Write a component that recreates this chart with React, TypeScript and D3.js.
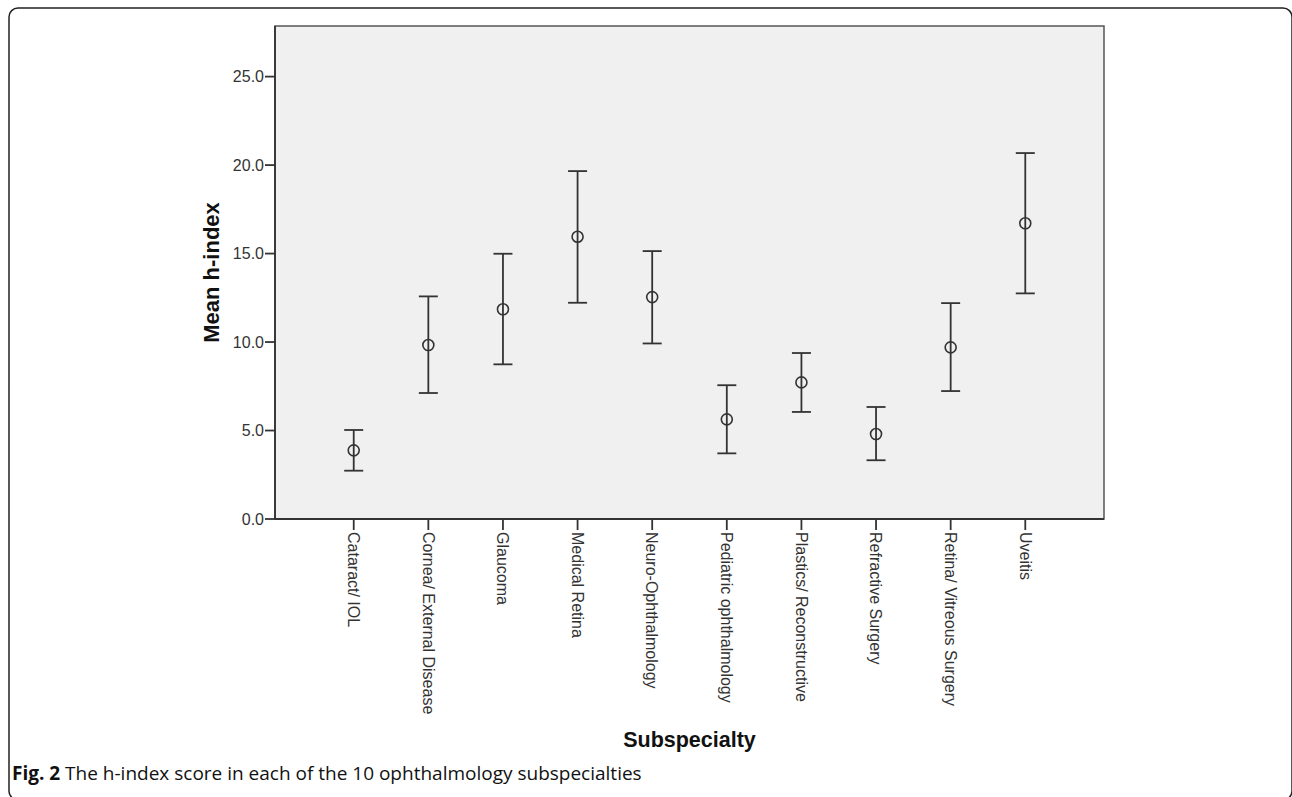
import React from "react";
import * as d3 from "d3";

// h-index per subspecialty: mean with 95% CI
const categories = [
  "Cataract/ IOL",
  "Cornea/ External Disease",
  "Glaucoma",
  "Medical Retina",
  "Neuro-Ophthalmology",
  "Pediatric ophthalmology",
  "Plastics/ Reconstructive",
  "Refractive Surgery",
  "Retina/ Vitreous Surgery",
  "Uveitis",
];
const means = [3.88, 9.83, 11.85, 15.95, 12.54, 5.63, 7.72, 4.8, 9.7, 16.71];
const upper = [5.03, 12.58, 14.99, 19.66, 15.14, 7.56, 9.38, 6.33, 12.2, 20.68];
const lower = [2.73, 7.12, 8.74, 12.22, 9.92, 3.71, 6.05, 3.32, 7.23, 12.75];
const yTicks = [0, 5, 10, 15, 20, 25];

const W = 1292;
const H = 797;
const plot = { left: 275, right: 1104, top: 26, bottom: 519 };
const ink = "#333";
const font = "'Liberation Sans', Arial, sans-serif";

const App = () => {
  const x = d3
    .scalePoint<string>()
    .domain(categories)
    .range([plot.left, plot.right])
    .padding(1.055);

  const y = d3.scaleLinear().domain([0, 27.86]).range([plot.bottom, plot.top]);
  const fmt = d3.format(".1f");
  const cap = 9.5;

  return (
    <svg
      width={W}
      height={H}
      style={{ position: "absolute", left: 0, top: 0, background: "#fff" }}
    >
      {/* outer figure frame, bottom runs off the page */}
      <rect
        x={9}
        y={8}
        width={1283}
        height={792}
        rx={9}
        fill="none"
        stroke="#222"
        strokeWidth={1.5}
      />

      {/* plot area */}
      <rect
        x={plot.left}
        y={plot.top}
        width={plot.right - plot.left}
        height={plot.bottom - plot.top}
        fill="#f0f0f0"
        stroke="#555"
        strokeWidth={1.5}
      />
      <line x1={plot.left} x2={plot.left} y1={plot.top} y2={plot.bottom} stroke={ink} strokeWidth={1.8} />
      <line x1={plot.left} x2={plot.right} y1={plot.bottom} y2={plot.bottom} stroke={ink} strokeWidth={1.8} />

      {/* y axis */}
      {yTicks.map((t) => (
        <g key={t} transform={`translate(0,${y(t)})`}>
          <line x1={plot.left - 10} x2={plot.left} stroke={ink} strokeWidth={1.8} />
          <text
            x={plot.left - 11}
            dy="0.36em"
            textAnchor="end"
            fontFamily={font}
            fontSize={16}
            fill={ink}
          >
            {fmt(t)}
          </text>
        </g>
      ))}
      <text
        transform={`translate(219,${(plot.top + plot.bottom) / 2}) rotate(-90)`}
        textAnchor="middle"
        fontFamily={font}
        fontWeight="bold"
        fontSize={22}
        fill="#111"
      >
        Mean h-index
      </text>

      {/* x axis */}
      {categories.map((c) => (
        <g key={c} transform={`translate(${x(c)},${plot.bottom})`}>
          <line y1={0} y2={11} stroke={ink} strokeWidth={1.8} />
          <text
            transform="translate(0,13) rotate(90)"
            dy="0.36em"
            textAnchor="start"
            fontFamily={font}
            fontSize={16}
            fill={ink}
          >
            {c}
          </text>
        </g>
      ))}
      <text
        x={(plot.left + plot.right) / 2}
        y={747}
        textAnchor="middle"
        fontFamily={font}
        fontWeight="bold"
        fontSize={21.5}
        fill="#111"
      >
        Subspecialty
      </text>

      {/* error bars */}
      {categories.map((c, i) => {
        const cx = x(c) as number;
        return (
          <g key={c} stroke={ink} strokeWidth={1.8} fill="none">
            <line x1={cx} x2={cx} y1={y(upper[i])} y2={y(lower[i])} />
            <line x1={cx - cap} x2={cx + cap} y1={y(upper[i])} y2={y(upper[i])} />
            <line x1={cx - cap} x2={cx + cap} y1={y(lower[i])} y2={y(lower[i])} />
            <circle cx={cx} cy={y(means[i])} r={5.5} strokeWidth={1.6} />
          </g>
        );
      })}

      {/* caption */}
      <text x={12} y={780} fontFamily="'Open Sans', 'Noto Sans', sans-serif" fontSize={19} fill="#111">
        <tspan fontWeight="bold">Fig. 2</tspan>
        <tspan> The h-index score in each of the 10 ophthalmology subspecialties</tspan>
      </text>
    </svg>
  );
};

export default App;
